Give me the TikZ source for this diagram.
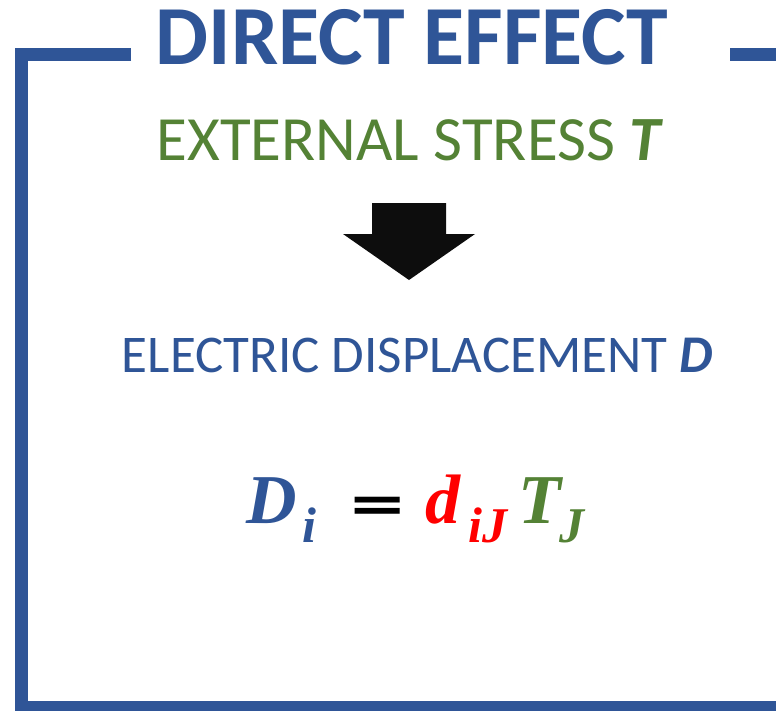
\documentclass[tikz,border=0pt]{standalone}
\usepackage{fontspec}
\setmainfont{Carlito}
\newfontfamily\eqfont{Liberation Serif}
\newfontfamily\symfont{DejaVu Sans}
\definecolor{myblue}{HTML}{2F5597}
\definecolor{mygreen}{HTML}{548235}
\definecolor{myred}{HTML}{FF0000}
\definecolor{arrowblack}{HTML}{0D0D0D}
\newcommand{\subfnt}{\fontsize{50}{50}\selectfont}
\tikzset{
  frameline/.style={myblue, line width=12.5pt},
  lbl/.style={anchor=base, inner sep=0pt},
  eq/.style={anchor=base west, inner sep=0pt, font=\eqfont\bfseries\itshape\fontsize{70}{70}\selectfont}
}
\begin{document}
\begin{tikzpicture}[x=1pt,y=-1pt]
\useasboundingbox (0,0) rectangle (776,710);
\clip (0,0) rectangle (776,710);
\fill[white] (0,0) rectangle (776,710);
\draw[frameline] (131,54.25) -- (21.25,54.25) -- (21.25,707) -- (800,707);
\draw[frameline] (730,54.25) -- (800,54.25);
\node[lbl, text=myblue, font=\bfseries\fontsize{84}{84}\selectfont] (title) at (412,64) {DIRECT EFFECT};
\node[lbl, text=mygreen, font=\fontsize{63}{63}\selectfont] (stress) at (410,160) {EXTERNAL STRESS \textbf{\textit{T}}};
\fill[arrowblack] (372,203) -- (446,203) -- (446,234) -- (475,234) -- (409,280) -- (343,234) -- (372,234) -- cycle;
\node[lbl, text=myblue, font=\fontsize{53}{53}\selectfont] (disp) at (417.5,372) {ELECTRIC DISPLACEMENT \textbf{\textit{D}}};
\node[eq, text=myblue] (D) at (246,523) {D\kern6pt\raisebox{-19pt}{\subfnt i}};
\node[anchor=base west, inner sep=0pt, font=\symfont\bfseries\fontsize{48}{48}\selectfont] (eqs) at (347,521) {\scalebox{1.5}[1.05]{=}};
\node[eq, text=myred] (d) at (425,523) {d\kern8pt\raisebox{-19pt}{\subfnt iJ}};
\node[eq, text=mygreen] (T) at (518,523) {T\kern-1pt\raisebox{-19pt}{\subfnt J}};
\end{tikzpicture}
\end{document}
